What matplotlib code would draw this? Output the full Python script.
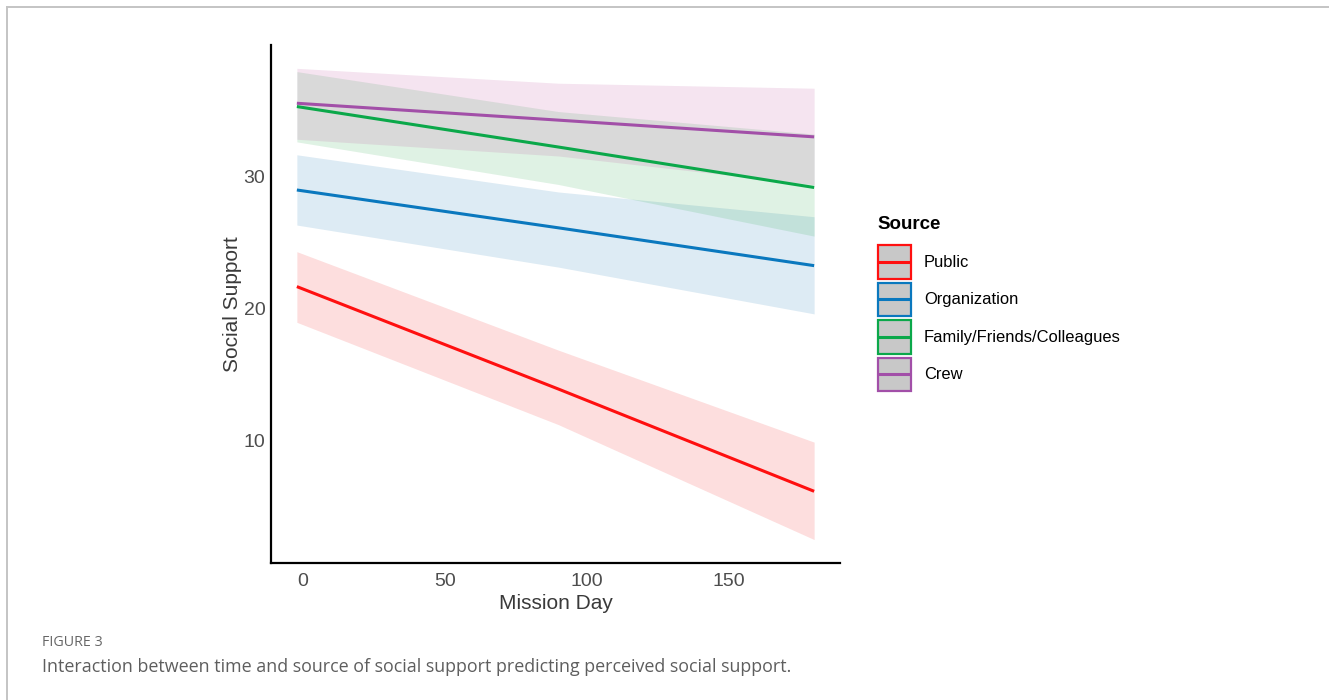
import matplotlib
matplotlib.use("Agg")
import matplotlib.pyplot as plt
from matplotlib.patches import Rectangle
from matplotlib.lines import Line2D

# ---- data ----
sources = ["Public", "Organization", "Family/Friends/Colleagues", "Crew"]
line_colors = ["#FF1010", "#0A78BE", "#0BA84A", "#A24FA8"]
fill_colors = ["#F22323", "#1D7AB6", "#2AA84B", "#BC4B9B"]
days = [-2, 90, 180]
fit_public = [21.67, 13.9, 6.14]
fit_org = [29.0, 26.13, 23.26]
fit_family = [35.33, 32.26, 29.19]
fit_crew = [35.58, 34.3, 33.03]
lo_public = [18.96, 11.2, 2.48]
hi_public = [24.32, 16.85, 9.87]
lo_org = [26.34, 23.15, 19.6]
hi_org = [31.67, 28.85, 26.97]
lo_family = [32.65, 29.42, 25.5]
hi_family = [37.98, 34.95, 33.24]
lo_crew = [32.85, 31.58, 29.4]
hi_crew = [38.23, 37.1, 36.72]
xticks = [0, 50, 100, 150]
yticks = [10, 20, 30]

fits = [fit_public, fit_org, fit_family, fit_crew]
los = [lo_public, lo_org, lo_family, lo_crew]
his = [hi_public, hi_org, hi_family, hi_crew]

plt.rcParams["font.family"] = ["Liberation Sans", "DejaVu Sans"]

fig = plt.figure(figsize=(13.29, 7.0), dpi=100)
ax = fig.add_axes([271 / 1329, 137 / 700, 569 / 1329, 518 / 700])

for lo, hi, c in zip(los, his, fill_colors):
    ax.fill_between(days, lo, hi, color=c, alpha=0.15, linewidth=0)
for f, c in zip(fits, line_colors):
    ax.plot(days, f, color=c, lw=2.2, solid_capstyle="butt")

ax.set_xlim(-11.1, 189.1)
ax.set_ylim(0.7, 40.0)
ax.set_xticks(xticks)
ax.set_yticks(yticks)
ax.tick_params(length=0, labelsize=14, labelcolor="#4D4D4D")
ax.tick_params(axis="y", pad=4)
ax.tick_params(axis="x", pad=7)
for s in ["top", "right"]:
    ax.spines[s].set_visible(False)
for s in ["left", "bottom"]:
    ax.spines[s].set_linewidth(1.6)
    ax.spines[s].set_color("black")
ax.set_xlabel("Mission Day", fontsize=15, color="#3A3A3A", labelpad=3)
ax.set_ylabel("Social Support", fontsize=15, color="#3A3A3A", labelpad=1)


class KeyHandler:
    def legend_artist(self, legend, orig_handle, fontsize, handlebox):
        xd, yd = handlebox.xdescent, handlebox.ydescent
        w, h = handlebox.width, handlebox.height
        c = orig_handle.get_color()
        rect = Rectangle((-xd + 0.8, -yd + 0.8), w - 1.6, h - 1.6,
                         facecolor="#C8C8C8", edgecolor=c, linewidth=1.6,
                         transform=handlebox.get_transform())
        ln = Line2D([-xd + 2.5, -xd + w - 2.5], [-yd + h / 2] * 2, color=c,
                    lw=2.2, transform=handlebox.get_transform())
        handlebox.add_artist(rect)
        handlebox.add_artist(ln)
        return rect


handles = [Line2D([], [], color=c) for c in line_colors]
fs = 11.9
leg = fig.legend(handles, sources, loc="upper left",
                 bbox_to_anchor=(877 / 1329, 1 - 244 / 700),
                 frameon=False, fontsize=fs,
                 handler_map={Line2D: KeyHandler()},
                 handlelength=2.15, handleheight=2.94, labelspacing=0.115,
                 handletextpad=0.7, borderpad=0, borderaxespad=0)
fig.text(877 / 1329, 1 - 224 / 700, "Source", fontsize=13.5,
         fontweight="bold", color="black", va="center", ha="left")

# frame lines of the figure panel
fig.add_artist(Line2D([7 / 1329, 1.0], [1 - 7 / 700, 1 - 7 / 700],
                      color="#C4C4C4", lw=1.4))
fig.add_artist(Line2D([7 / 1329, 7 / 1329], [0.0, 1 - 7 / 700],
                      color="#C4C4C4", lw=1.4))

fig.text(42 / 1329, 1 - 643 / 700, "FIGURE 3", fontsize=10.3, color="#666666",
         family=["Open Sans", "DejaVu Sans"], va="center")
fig.text(42 / 1329, 1 - 667 / 700,
         "Interaction between time and source of social support predicting perceived social support.",
         fontsize=12.9, color="#5E5E5E", family=["Open Sans", "DejaVu Sans"],
         va="center")

fig.savefig("out.png", dpi=100)
